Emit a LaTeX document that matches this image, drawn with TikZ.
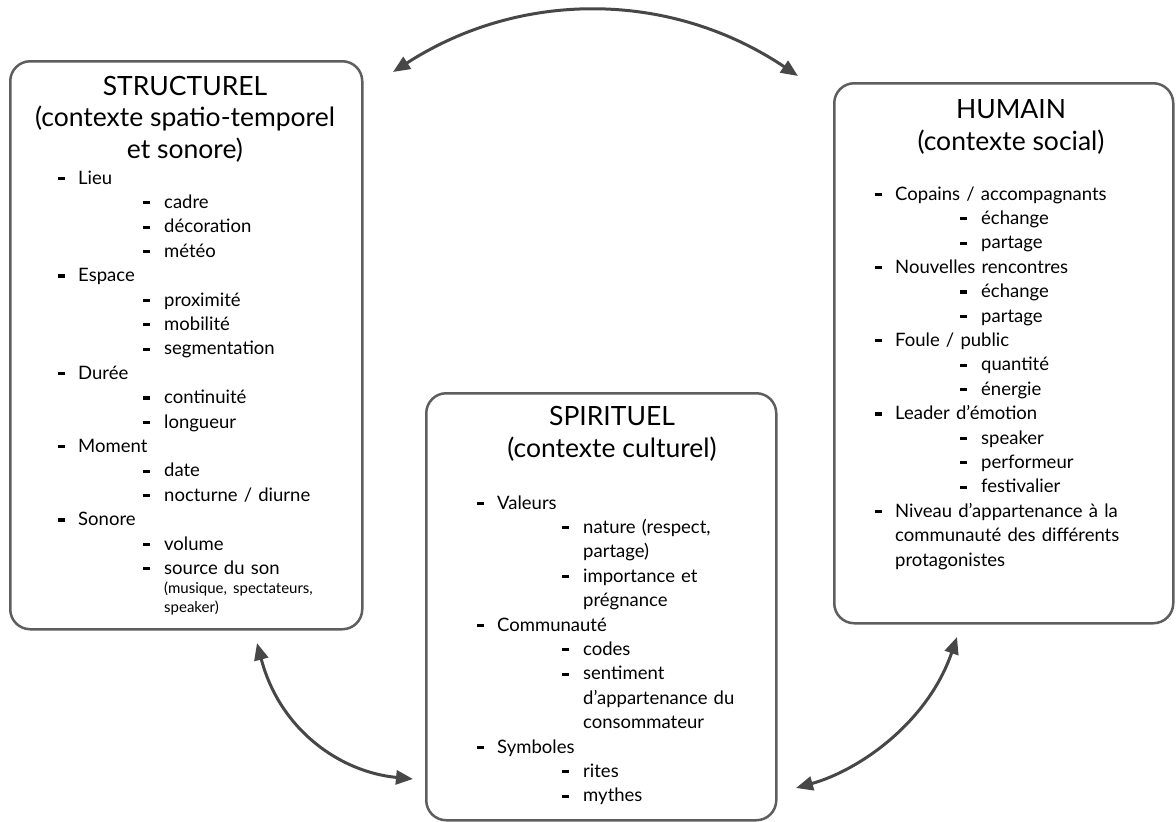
\documentclass[tikz,border=0pt]{standalone}
\usepackage{fontspec}
\setmainfont{Lato}
\usetikzlibrary{arrows.meta,positioning}
\setlength{\parindent}{0pt}
\setlength{\parskip}{0pt}
\definecolor{trait}{HTML}{5E5E5E}
\definecolor{fleche}{HTML}{474747}
% puces et niveaux des listes
\newcommand{\puce}{\rule[0.22em]{0.37em}{0.17em}}
\newcommand{\niva}[1]{\makebox[20pt][l]{\puce}#1\par}
\newcommand{\nivb}[1]{\hspace*{85pt}\makebox[21pt][l]{\puce}#1\par}
\newcommand{\suitea}[1]{\hspace*{20pt}#1\par}
\newcommand{\suiteb}[1]{\hspace*{106pt}#1\par}

\begin{document}
\begin{tikzpicture}[x=1pt, y=-1pt,
    boite/.style={draw=trait, line width=2.5pt, rounded corners=20pt, inner sep=0pt, anchor=north west},
    titre/.style={align=center, inner sep=0pt, anchor=base, font=\fontsize{26.5}{31.5}\selectfont},
    liste/.style={text width=300pt, inner sep=0pt, anchor=base west, font=\fontsize{18.5}{24.4}\selectfont},
    lien/.style={{Triangle[length=17pt,width=14pt]}-{Triangle[length=17pt,width=14pt]}, line width=3pt, draw=fleche}]
  \useasboundingbox (0,0) rectangle (1176,822);

  % les trois cadres
  \node[boite, minimum width=352pt, minimum height=568pt] (struc) at (9,60) {};
  \node[boite, minimum width=350pt, minimum height=427pt] (spirit) at (425,392) {};
  \node[boite, minimum width=339pt, minimum height=540pt] (humain) at (833,82) {};

  % titres : ancre sur la derniere ligne
  \node[titre] (strucT) at (185,158) {STRUCTUREL\\(contexte spatio-temporel\\et sonore)};
  \node[liste] (strucL) at (58,184) {%
    \niva{Lieu}
    \nivb{cadre}
    \nivb{décoration}
    \nivb{météo}
    \niva{Espace}
    \nivb{proximité}
    \nivb{mobilité}
    \nivb{segmentation}
    \niva{Durée}
    \nivb{continuité}
    \nivb{longueur}
    \niva{Moment}
    \nivb{date}
    \nivb{nocturne / diurne}
    \niva{Sonore}
    \nivb{volume}
    \nivb{source du son}
    {\fontsize{15}{19}\selectfont\suiteb{(musique, spectateurs,}\suiteb{speaker)}}};

  \node[titre] (spiritT) at (612,457) {SPIRITUEL\\(contexte culturel)};
  \node[liste] (spiritL) at (477,509) {%
    \niva{Valeurs}
    \nivb{nature (respect,}
    \suiteb{partage)}
    \nivb{importance et}
    \suiteb{prégnance}
    \niva{Communauté}
    \nivb{codes}
    \nivb{sentiment}
    \suiteb{d’appartenance du}
    \suiteb{consommateur}
    \niva{Symboles}
    \nivb{rites}
    \nivb{mythes}};

  \node[titre] (humainT) at (1011,150) {HUMAIN\\(contexte social)};
  \node[liste] (humainL) at (875,200) {%
    \niva{Copains / accompagnants}
    \nivb{échange}
    \nivb{partage}
    \niva{Nouvelles rencontres}
    \nivb{échange}
    \nivb{partage}
    \niva{Foule / public}
    \nivb{quantité}
    \nivb{énergie}
    \niva{Leader d’émotion}
    \nivb{speaker}
    \nivb{performeur}
    \nivb{festivalier}
    \niva{Niveau d’appartenance à la}
    \suitea{communauté des différents}
    \suitea{protagonistes}};

  % fleches doubles entre les cadres
  \coordinate (hautG) at (393,72);
  \coordinate (hautD) at (798,76);
  \coordinate (basG1) at (257,643);
  \coordinate (basG2) at (413,779);
  \coordinate (basD1) at (796,788);
  \coordinate (basD2) at (957,637);
  \draw[lien] (hautG) .. controls (520,-10) and (670,-10) .. (hautD);
  \draw[lien] (basG1) .. controls (280,730) and (340,772) .. (basG2);
  \draw[lien] (basD1) .. controls (860,770) and (928,722) .. (basD2);
\end{tikzpicture}
\end{document}
